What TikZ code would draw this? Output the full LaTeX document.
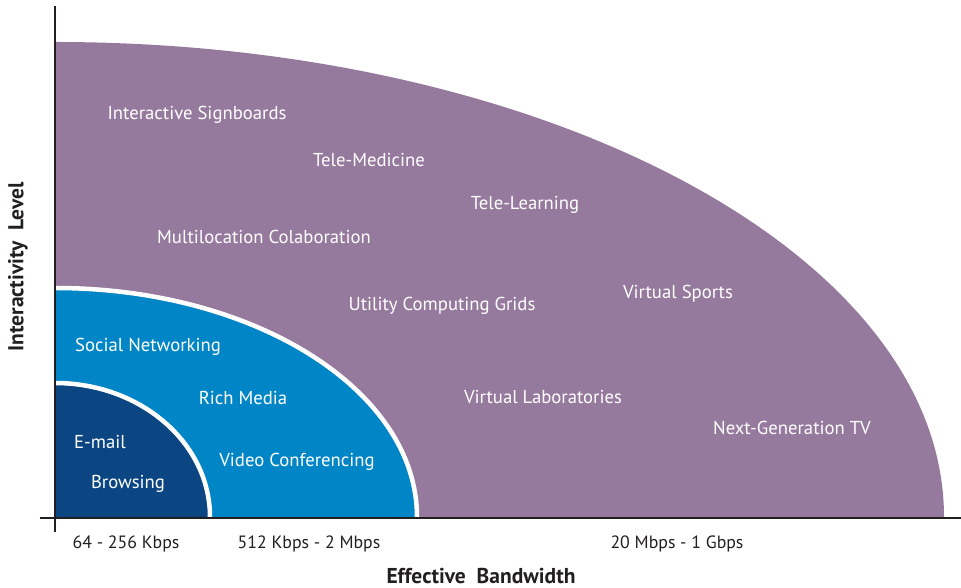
\documentclass[tikz,border=0pt]{standalone}
\usepackage{fontspec}
\setmainfont{PT Sans}
\usetikzlibrary{calc}
\begin{document}
\begin{tikzpicture}[x=1pt,y=1pt,
  lbl/.style={text=white,font=\fontsize{18.7}{22}\selectfont,inner sep=0pt},
  axlbl/.style={text=axisgray,font=\fontsize{17.8}{21}\selectfont,inner sep=0pt},
  axtitle/.style={text=axisgray,font=\bfseries\fontsize{21.5}{24}\selectfont,inner sep=0pt},
  axisline/.style={draw=axisgray,line width=2.6pt},
  sep/.style={draw=white,line width=4.5pt}]
\definecolor{axisgray}{HTML}{231F20}
\definecolor{purplezone}{HTML}{967A9E}
\definecolor{bluezone}{HTML}{0085C7}
\definecolor{navyzone}{HTML}{0B4682}
\useasboundingbox (0,0) rectangle (961,588);
\coordinate (o) at (55,71);
% outer zone
\fill[purplezone] (o) -- ++(0,475) arc[start angle=90,end angle=0,x radius=889,y radius=475] -- cycle;
% middle zone
\fill[bluezone] (o) -- ++(0,227) arc[start angle=90,end angle=0,x radius=360,y radius=227] -- cycle;
\draw[sep] ($(o)+(0,229)$) arc[start angle=90,end angle=0,x radius=362,y radius=229];
% inner zone
\fill[navyzone] (o) -- ++(0,132) arc[start angle=90,end angle=0,x radius=153,y radius=132] -- cycle;
\draw[sep] ($(o)+(0,134)$) arc[start angle=90,end angle=0,x radius=155,y radius=134];
% axes
\coordinate (ytop) at (55,582);
\coordinate (ybot) at (55,56);
\coordinate (xl) at (40,70);
\coordinate (xr) at (961,70);
\draw[axisline] (ybot) -- (ytop);
\draw[axisline] (xl) -- (xr);
% outer zone applications
\node[lbl] (sign) at (197,473) {Interactive Signboards};
\node[lbl] (med) at (369,428) {Tele-Medicine};
\node[lbl] (learn) at (525,383) {Tele-Learning};
\node[lbl] (multi) at (264,351) {Multilocation Colaboration};
\node[lbl] (grid) at (442,282) {Utility Computing Grids};
\node[lbl] (sports) at (678,294) {Virtual Sports};
\node[lbl] (labs) at (543,191) {Virtual Laboratories};
\node[lbl] (ngtv) at (792,160) {Next-Generation TV};
% middle zone applications
\node[lbl] (social) at (148,241) {Social Networking};
\node[lbl] (rich) at (243,190) {Rich Media};
\node[lbl] (video) at (297,126) {Video Conferencing};
% inner zone applications
\node[lbl] (mail) at (100,146) {E-mail};
\node[lbl] (browse) at (128,104) {Browsing};
% bandwidth ranges
\node[axlbl] (bw1) at (126,44) {64 - 256 Kbps};
\node[axlbl] (bw2) at (309,44) {512 Kbps - 2 Mbps};
\node[axlbl] (bw3) at (677,44) {20 Mbps - 1 Gbps};
% axis titles
\node[axtitle] (xt) at (481,12) {Effective\ \ Bandwidth};
\node[axtitle,rotate=90] (yt) at (18,321) {Interactivity\ \ Level};
\end{tikzpicture}
\end{document}
